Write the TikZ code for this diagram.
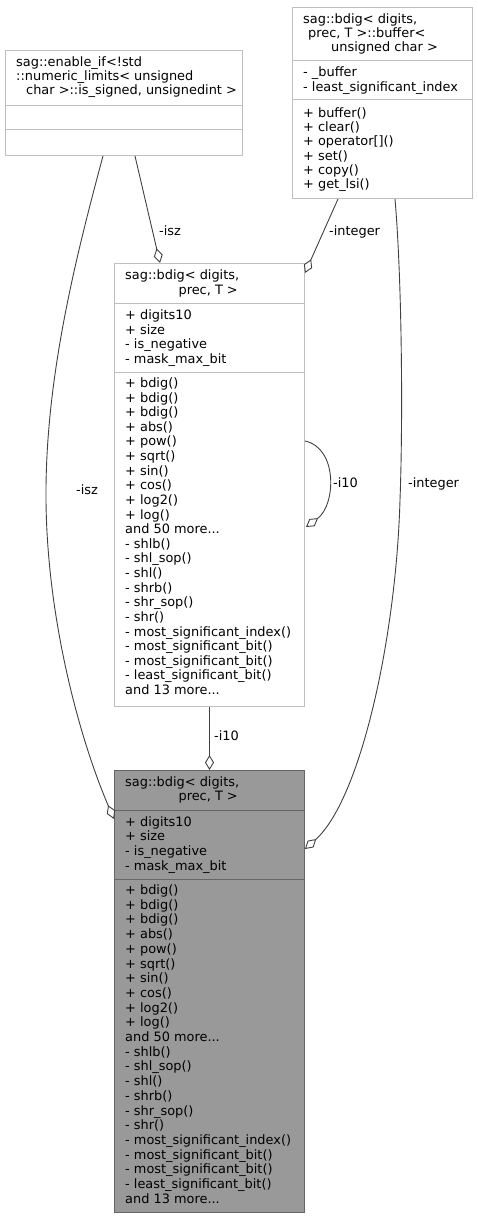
\documentclass[tikz,border=0pt]{standalone}
\usepackage{fontspec}
\setmainfont{DejaVu Sans}
\usetikzlibrary{arrows.meta,calc}
\definecolor{edgec}{HTML}{404040}
\definecolor{boxc}{HTML}{BFBFBF}
\definecolor{hlfill}{HTML}{999999}
\definecolor{hlborder}{HTML}{666666}
\tikzset{
  umlbox/.style={draw=boxc, line width=1pt, fill=white, inner sep=0pt, anchor=north west},
  hlbox/.style={draw=hlborder, line width=1pt, fill=hlfill, inner sep=0pt, anchor=north west},
  divider/.style={draw=boxc, line width=1pt},
  hldivider/.style={draw=hlborder, line width=1pt},
  txt/.style={font=\fontsize{12.9}{14.67}\selectfont, align=left, inner sep=0pt, anchor=base west},
  txtr/.style={font=\fontsize{12.9}{14.67}\selectfont, inner sep=0pt, anchor=base east},
  txtc/.style={font=\fontsize{12.9}{14.67}\selectfont, inner sep=0pt, anchor=base},
  lbl/.style={font=\fontsize{12.9}{14.67}\selectfont, inner sep=0pt, anchor=base west},
  agg/.style={draw=edgec, line width=0.9pt, -{Diamond[open,length=15pt,width=9pt,line width=0.9pt]}}
}
\begin{document}
\begin{tikzpicture}[x=1pt,y=-1pt]
\useasboundingbox (0,0) rectangle (478,1219);

% boxes
\node[umlbox, minimum width=237pt, minimum height=105pt] (enable) at (5,50) {};
\node[umlbox, minimum width=180pt, minimum height=191pt] (buffer) at (292,7) {};
\node[umlbox, minimum width=190pt, minimum height=443pt] (mid) at (114,263) {};
\node[hlbox, minimum width=190pt, minimum height=442pt] (main) at (114,770) {};

% dividers
\draw[divider] ($(enable.north west)+(0,55)$) -- ($(enable.north east)+(0,55)$);
\draw[divider] ($(enable.north west)+(0,79)$) -- ($(enable.north east)+(0,79)$);
\draw[divider] ($(buffer.north west)+(0,53)$) -- ($(buffer.north east)+(0,53)$);
\draw[divider] ($(buffer.north west)+(0,92)$) -- ($(buffer.north east)+(0,92)$);
\draw[divider] ($(mid.north west)+(0,40)$) -- ($(mid.north east)+(0,40)$);
\draw[divider] ($(mid.north west)+(0,109)$) -- ($(mid.north east)+(0,109)$);
\draw[hldivider] ($(main.north west)+(0,40)$) -- ($(main.north east)+(0,40)$);
\draw[hldivider] ($(main.north west)+(0,109)$) -- ($(main.north east)+(0,109)$);

% enable_if texts
\node[txt] (et1) at (16,66) {sag::enable\_if<!std};
\node[txt] (et2) at (16,80.3) {::numeric\_limits< unsigned};
\node[txt] (et3) at (26,94.6) {char >::is\_signed, unsignedint >};

% buffer texts (multi-line nodes anchored at the baseline of their last line)
\node[txt] (bt1) at (303,23) {sag::bdig< digits,};
\node[txt] (bt2) at (308,37.5) {prec, T >::buffer<};
\node[txtc] (bt3) at (384.5,51.5) {unsigned char >};
\node[txt] (ba) at (303,91) {- \_buffer\\- least\_significant\_index};
\node[txt, font=\fontsize{12.9}{14.2}\selectfont] (bm) at (303,188.5) {+ buffer()\\+ clear()\\+ operator[]()\\+ set()\\+ copy()\\+ get\_lsi()};

% middle bdig texts
\node[txt] (mt1) at (125,279.5) {sag::bdig< digits,};
\node[txtr] (mt2) at (238,294.3) {prec, T >};
\node[txt] (ma) at (125,363.5) {+ digits10\\+ size\\- is\_negative\\- mask\_max\_bit};
\node[txt, font=\fontsize{12.9}{14.62}\selectfont] (mm) at (125,694.5) {+ bdig()\\+ bdig()\\+ bdig()\\+ abs()\\+ pow()\\+ sqrt()\\+ sin()\\+ cos()\\+ log2()\\+ log()\\and 50 more...\\- shlb()\\- shl\_sop()\\- shl()\\- shrb()\\- shr\_sop()\\- shr()\\- most\_significant\_index()\\- most\_significant\_bit()\\- most\_significant\_bit()\\- least\_significant\_bit()\\and 13 more...};

% main bdig texts
\node[txt] (nt1) at (125,786.3) {sag::bdig< digits,};
\node[txtr] (nt2) at (238,800.5) {prec, T >};
\node[txt] (na) at (125,870.2) {+ digits10\\+ size\\- is\_negative\\- mask\_max\_bit};
\node[txt, font=\fontsize{12.9}{14.7}\selectfont] (nm) at (125,1203.2) {+ bdig()\\+ bdig()\\+ bdig()\\+ abs()\\+ pow()\\+ sqrt()\\+ sin()\\+ cos()\\+ log2()\\+ log()\\and 50 more...\\- shlb()\\- shl\_sop()\\- shl()\\- shrb()\\- shr\_sop()\\- shr()\\- most\_significant\_index()\\- most\_significant\_bit()\\- most\_significant\_bit()\\- least\_significant\_bit()\\and 13 more...};

% connectors
\draw[agg] ($(enable.south west)+(130,0)$) -- ($(mid.north west)+(46,0)$);
\node[lbl] (l1) at (159,235.3) {-isz};

\draw[agg] ($(enable.south west)+(98,0)$) .. controls (75,260) and (45,380) .. (46,500)
  .. controls (47,620) and (80,740) .. ($(main.north west)+(0,49)$);
\node[lbl] (l2) at (76,494) {-isz};

\draw[agg] ($(buffer.south west)+(46,0)$) -- ($(mid.north east)+(0,10)$);
\node[lbl] (l3) at (329,235.3) {-integer};

\draw[agg] ($(buffer.south west)+(103,0)$) .. controls (402,280) and (403,420) .. (400,500)
  .. controls (396,640) and (360,800) .. ($(main.north east)+(0,79)$);
\node[lbl] (l4) at (408,487.3) {-integer};

\draw[agg] ($(mid.north east)+(0,178)$) .. controls (338,448) and (336,505) .. ($(mid.north east)+(1,264)$);
\node[lbl] (l5) at (333,487.3) {-i10};

\draw[agg] (mid.south) -- (main.north);
\node[lbl] (l6) at (214,740.3) {-i10};
\end{tikzpicture}
\end{document}
